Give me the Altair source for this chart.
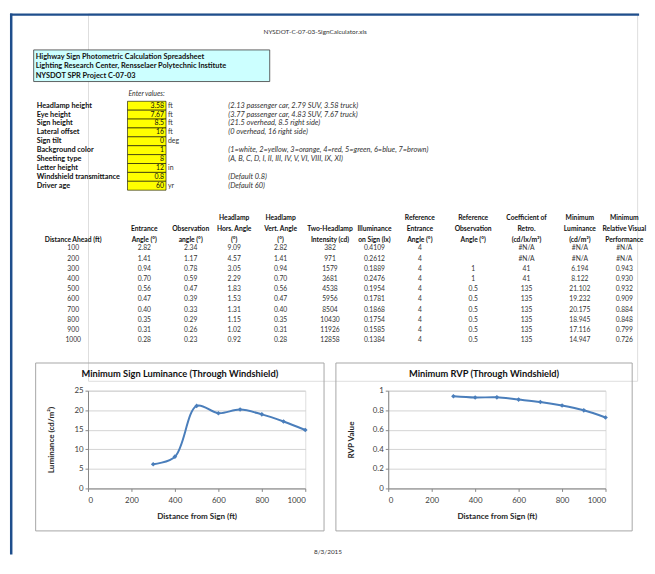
import altair as alt
import pandas as pd

FONT = "Lato"
BLUE = "#4a7ebb"
TXT = "#333333"

# ---------------- data ----------------
file_name = ["NYSDOT-C-07-03-SignCalculator.xls"]
print_date = ["8/3/2015"]
header_lines = ["Highway Sign Photometric Calculation Spreadsheet",
                "Lighting Research Center, Rensselaer Polytechnic Institute",
                "NYSDOT SPR Project C-07-03"]
enter_values = ["Enter values:"]
input_labels = ["Headlamp height", "Eye height", "Sign height", "Lateral offset", "Sign tilt",
                "Background color", "Sheeting type", "Letter height",
                "Windshield transmittance", "Driver age"]
input_values = ["3.58", "7.67", "8.5", "16", "0", "1", "8", "12", "0.8", "60"]
input_units = ["ft", "ft", "ft", "ft", "deg", "", "", "in", "", "yr"]
input_notes = ["(2.13 passenger car, 2.79 SUV, 3.58 truck)",
               "(3.77 passenger car, 4.83 SUV, 7.67 truck)",
               "(21.5 overhead, 8.5 right side)",
               "(0 overhead, 16 right side)",
               "",
               "(1=white, 2=yellow, 3=orange, 4=red, 5=green, 6=blue, 7=brown)",
               "(A, B, C, D, I, II, III, IV, V, VI, VIII, IX, XI)",
               "",
               "(Default 0.8)",
               "(Default 60)"]

table_headers = [["Distance Ahead (ft)"], ["Entrance", "Angle (°)"], ["Observation", "angle (°)"],
                 ["Headlamp", "Hors. Angle", "(°)"], ["Headlamp", "Vert. Angle", "(°)"],
                 ["Two-Headlamp", "Intensity (cd)"], ["Illuminance", "on Sign (lx)"],
                 ["Reference", "Entrance", "Angle (°)"], ["Reference", "Observation", "Angle (°)"],
                 ["Coefficient of", "Retro.", "(cd/lx/m²)"], ["Minimum", "Luminance", "(cd/m²)"],
                 ["Minimum", "Relative Visual", "Performance"]]

distance = [100, 200, 300, 400, 500, 600, 700, 800, 900, 1000]
entrance_angle = ["2.82", "1.41", "0.94", "0.70", "0.56", "0.47", "0.40", "0.35", "0.31", "0.28"]
observation_angle = ["2.34", "1.17", "0.78", "0.59", "0.47", "0.39", "0.33", "0.29", "0.26", "0.23"]
headlamp_hors = ["9.09", "4.57", "3.05", "2.29", "1.83", "1.53", "1.31", "1.15", "1.02", "0.92"]
headlamp_vert = ["2.82", "1.41", "0.94", "0.70", "0.56", "0.47", "0.40", "0.35", "0.31", "0.28"]
intensity = ["382", "971", "1579", "3681", "4538", "5956", "8504", "10430", "11926", "12858"]
illuminance = ["0.4109", "0.2612", "0.1889", "0.2476", "0.1954", "0.1781", "0.1868", "0.1754", "0.1585", "0.1384"]
ref_entrance = ["4", "4", "4", "4", "4", "4", "4", "4", "4", "4"]
ref_observation = ["", "", "1", "1", "0.5", "0.5", "0.5", "0.5", "0.5", "0.5"]
coef_retro = ["#N/A", "#N/A", "41", "41", "135", "135", "135", "135", "135", "135"]
min_luminance = ["#N/A", "#N/A", "6.194", "8.122", "21.102", "19.232", "20.175", "18.945", "17.116", "14.947"]
min_rvp = ["#N/A", "#N/A", "0.943", "0.930", "0.932", "0.909", "0.884", "0.848", "0.799", "0.726"]

table_columns = [[str(d) for d in distance], entrance_angle, observation_angle, headlamp_hors,
                 headlamp_vert, intensity, illuminance, ref_entrance, ref_observation,
                 coef_retro, min_luminance, min_rvp]

chart_titles = ["Minimum Sign Luminance (Through Windshield)", "Minimum RVP (Through Windshield)"]
x_ticks = [0, 200, 400, 600, 800, 1000]
lum_ticks = [0, 5, 10, 15, 20, 25]
rvp_ticks = [0, 0.2, 0.4, 0.6, 0.8, 1]

# ---------------- tables for the library ----------------
one = pd.DataFrame({"k": [0]})
df_file = pd.DataFrame({"t": file_name})
df_date = pd.DataFrame({"t": print_date})
df_enter = pd.DataFrame({"t": enter_values})
df_head = pd.DataFrame({"i": list(range(len(header_lines))), "t": header_lines})
df_in = pd.DataFrame({"label": input_labels})
df_in_long = pd.concat([
    pd.DataFrame({"label": input_labels, "kind": k, "t": vals})
    for k, vals in enumerate([input_labels, input_values, input_units, input_notes])
])
# header lines, counted from the bottom line of each header cell
df_th = pd.DataFrame([
    {"c": c, "k": len(lines) - 1 - j, "t": line}
    for c, lines in enumerate(table_headers) for j, line in enumerate(lines)
])
df_cells = pd.concat([
    pd.DataFrame({"c": c, "distance": distance, "t": col})
    for c, col in enumerate(table_columns)
])


def to_num(v):
    try:
        return float(v)
    except ValueError:
        return None


df_lum = pd.DataFrame({"distance": distance, "v": [to_num(v) for v in min_luminance]}).dropna()
df_rvp = pd.DataFrame({"distance": distance, "v": [to_num(v) for v in min_rvp]}).dropna()

# ---------------- top (spreadsheet text) ----------------
col_x = alt.Scale(domain=list(range(12)),
                  range=[-15, 57, 104, 148, 195, 245, 290, 336, 390, 444, 498, 543])
in_x = alt.Scale(domain=[0, 1, 2, 3], range=[-52, 77, 81, 142])
in_y = alt.Scale(domain=input_labels, range=[89, 179], paddingInner=0, paddingOuter=0)

border_top = alt.Chart(one).mark_rule(color="#1f4e8c", strokeWidth=2.5).encode(
    x=alt.value(-79), x2=alt.value(558), y=alt.value(1.25))
border_left = alt.Chart(one).mark_rule(color="#1f4e8c", strokeWidth=2.5).encode(
    x=alt.value(-77.75), y=alt.value(0), y2=alt.value(548))

fname = alt.Chart(df_file).mark_text(font=FONT, fontSize=6.5, color=TXT).encode(
    text="t:N", x=alt.value(230), y=alt.value(19))
hbox = alt.Chart(one).mark_rect(fill="#ccffff", stroke="#3a3a3a", strokeWidth=0.8).encode(
    x=alt.value(-55), x2=alt.value(184), y=alt.value(37), y2=alt.value(69))
htext = alt.Chart(df_head).mark_text(font=FONT, fontSize=7.5, fontWeight="bold", align="left",
                                      color="#111111").encode(
    text="t:N", x=alt.value(-53),
    y=alt.Y("i:Q", scale=alt.Scale(domain=[0, 2], range=[44, 63]), axis=None))
enter = alt.Chart(df_enter).mark_text(font=FONT, fontSize=7, fontStyle="italic", align="left",
                                      color=TXT).encode(
    text="t:N", x=alt.value(41), y=alt.value(82))
ybox = alt.Chart(df_in).mark_rect(fill="#ffff00", stroke="#000000", strokeWidth=0.6).encode(
    y=alt.Y("label:N", scale=in_y, axis=None), x=alt.value(40), x2=alt.value(79))


def in_layer(kind, **kw):
    return alt.Chart(df_in_long).transform_filter(alt.datum.kind == kind).mark_text(
        font=FONT, **kw).encode(
        text="t:N",
        x=alt.X("kind:Q", scale=in_x, axis=None),
        y=alt.Y("label:N", scale=in_y, axis=None))


in_lab = in_layer(0, fontSize=7.4, fontWeight="bold", align="left", color="#111111")
in_val = in_layer(1, fontSize=7, align="right", color="#111111")
in_unit = in_layer(2, fontSize=7, align="left", color=TXT)
in_note = in_layer(3, fontSize=7.5, fontStyle="italic", align="left", color=TXT)

th = alt.Chart(df_th).mark_text(font=FONT, fontSize=6.8, fontWeight="bold", align="center",
                                baseline="middle", color="#111111").encode(
    text="t:N", x=alt.X("c:Q", scale=col_x, axis=None),
    y=alt.Y("k:Q", scale=alt.Scale(domain=[0, 2], range=[229, 207]), axis=None))
cells = alt.Chart(df_cells).mark_text(font=FONT, fontSize=6.8, align="center",
                                      baseline="middle", color=TXT).encode(
    text="t:N", x=alt.X("c:Q", scale=col_x, axis=None),
    y=alt.Y("distance:Q", scale=alt.Scale(domain=[100, 1000], range=[238, 331]), axis=None))
date = alt.Chart(df_date).mark_text(font=FONT, fontSize=6.5, color=TXT).encode(
    text="t:N", x=alt.value(243), y=alt.value(545))

top = alt.layer(border_top, border_left, fname, hbox, htext, enter, ybox,
                in_lab, in_val, in_unit, in_note, th, cells, date).resolve_scale(
    x="independent", y="independent").properties(width=556, height=372)


# ---------------- line charts ----------------
def xaxis():
    return alt.Axis(values=x_ticks, format="d", title="Distance from Sign (ft)", grid=False,
                    domainColor="#868686", tickColor="#868686", tickSize=3, labelPadding=5,
                    labelFontSize=8, labelColor="#404040", labelFont=FONT,
                    titleFont=FONT, titleFontSize=8.2, titleFontWeight="bold", titleColor="#262626",
                    titleX=110, titleY=28, titleBaseline="middle")


def yaxis(vals, title):
    return alt.Axis(values=vals, title=title, format="~g", grid=True, gridColor="#c8c8c8",
                    gridWidth=0.8, domainColor="#868686", tickColor="#868686", tickSize=3,
                    labelPadding=2, labelFontSize=8, labelColor="#404040", labelFont=FONT,
                    titleFont=FONT, titleFontSize=8.2, titleFontWeight="bold", titleColor="#262626",
                    titleX=-37, titleY=49.5, titleBaseline="middle", titleAlign="center",
                    titleAngle=270)


def panel(df, ydom, yvals, ytitle, title, title_x, frame_x2):
    base = alt.Chart(df).encode(
        x=alt.X("distance:Q", scale=alt.Scale(domain=[0, 1000]), axis=xaxis()),
        y=alt.Y("v:Q", scale=alt.Scale(domain=ydom), axis=yaxis(yvals, ytitle)))
    frame = alt.Chart(one).mark_rect(fillOpacity=0, stroke="#a6a6a6", strokeWidth=1).encode(
        x=alt.value(-53), x2=alt.value(frame_x2), y=alt.value(-28), y2=alt.value(142))
    ttl = alt.Chart(pd.DataFrame({"t": [title]})).mark_text(
        font=FONT, fontSize=9.4, fontWeight="bold", color="#111111", baseline="middle").encode(
        text="t:N", x=alt.value(title_x), y=alt.value(-17))
    line = base.mark_line(interpolate="catmull-rom", color=BLUE, strokeWidth=2)
    pts = base.mark_point(shape="diamond", filled=True, size=22, color=BLUE, opacity=1)
    return alt.layer(frame, ttl, line, pts).properties(width=220, height=99)


left = panel(df_lum, [0, 25], lum_ticks, "Luminance (cd/m²)", chart_titles[0], 93, 239)
right = panel(df_rvp, [0, 1], rvp_ticks, "RVP Value", chart_titles[1], 97, 247)

bottom = alt.hconcat(left, right, spacing=84, bounds="flush")

pad = {"left": 0, "top": 0, "right": 0, "bottom": 0}
chart = alt.vconcat(top, bottom, spacing=10, bounds="flush").properties(
    padding=pad
).configure_view(stroke="transparent").configure(font=FONT, background="white", padding=pad)

chart.save("out.html", embed_options={"renderer": "svg", "actions": False})
